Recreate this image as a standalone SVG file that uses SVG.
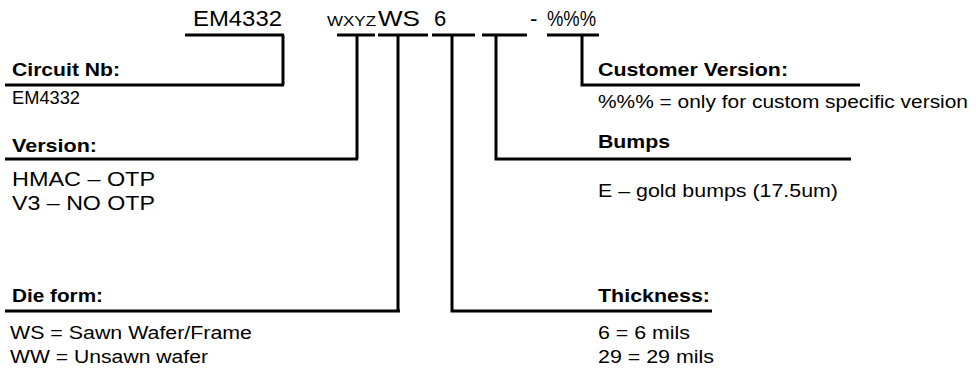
<svg xmlns="http://www.w3.org/2000/svg" width="976" height="371" viewBox="0 0 976 371">
<style>
text{font-family:"Liberation Sans",Arial,sans-serif;fill:#000}
.b{font-weight:bold;font-size:19px}
.n{font-size:17.5px}
.m{font-size:21px}
.t{font-size:22px}
.s{font-size:15px}
.ln{stroke:#000;stroke-width:3;fill:none}
</style>
<rect width="976" height="371" fill="#fff"/>
<g id="code">
<text class="t" x="193" y="26" textLength="89" lengthAdjust="spacingAndGlyphs">EM4332</text>
<text class="s" x="327" y="26" textLength="49" lengthAdjust="spacingAndGlyphs">WXYZ</text>
<text class="t" x="378" y="26" textLength="42" lengthAdjust="spacingAndGlyphs">WS</text>
<text class="t" x="434" y="26">6</text>
<text class="t" x="530" y="26">-</text>
<text class="t" x="547" y="26" textLength="49" lengthAdjust="spacingAndGlyphs">%%%</text>
</g>
<g id="connectors">
<path class="ln" d="M185 35H284M283 35V85M5 85H284"/>
<path class="ln" d="M337 35H375M357 35V159M5 159H358"/>
<path class="ln" d="M378 35H428M398 35V311M5 311H400"/>
<path class="ln" d="M432 35H475M452 35V311H712"/>
<path class="ln" d="M482 35H527M496 35V159H851"/>
<path class="ln" d="M547 35H599M582 35V85H860"/>
</g>
<g id="circuit">
<text class="b" x="12" y="76" textLength="108" lengthAdjust="spacingAndGlyphs">Circuit Nb:</text>
<text class="n" x="12" y="104" textLength="68" lengthAdjust="spacingAndGlyphs">EM4332</text>
</g>
<g id="version">
<text class="b" x="12" y="152" textLength="85" lengthAdjust="spacingAndGlyphs">Version:</text>
<text class="m" x="12" y="186" textLength="143" lengthAdjust="spacingAndGlyphs">HMAC – OTP</text>
<text class="m" x="12" y="210" textLength="143" lengthAdjust="spacingAndGlyphs">V3 – NO OTP</text>
</g>
<g id="dieform">
<text class="b" x="12" y="302" textLength="91" lengthAdjust="spacingAndGlyphs">Die form:</text>
<text class="n" x="10" y="339" textLength="242" lengthAdjust="spacingAndGlyphs">WS = Sawn Wafer/Frame</text>
<text class="n" x="10" y="363" textLength="198" lengthAdjust="spacingAndGlyphs">WW = Unsawn wafer</text>
</g>
<g id="customer">
<text class="b" x="598" y="76" textLength="190" lengthAdjust="spacingAndGlyphs">Customer Version:</text>
<text class="n" x="598" y="108" textLength="370" lengthAdjust="spacingAndGlyphs">%%% = only for custom specific version</text>
</g>
<g id="bumps">
<text class="b" x="598" y="148" textLength="72" lengthAdjust="spacingAndGlyphs">Bumps</text>
<text class="n" x="598" y="197" textLength="240" lengthAdjust="spacingAndGlyphs">E – gold bumps (17.5um)</text>
</g>
<g id="thickness">
<text class="b" x="598" y="302" textLength="112" lengthAdjust="spacingAndGlyphs">Thickness:</text>
<text class="n" x="598" y="339" textLength="92" lengthAdjust="spacingAndGlyphs">6 = 6 mils</text>
<text class="n" x="598" y="363" textLength="116" lengthAdjust="spacingAndGlyphs">29 = 29 mils</text>
</g>
</svg>
